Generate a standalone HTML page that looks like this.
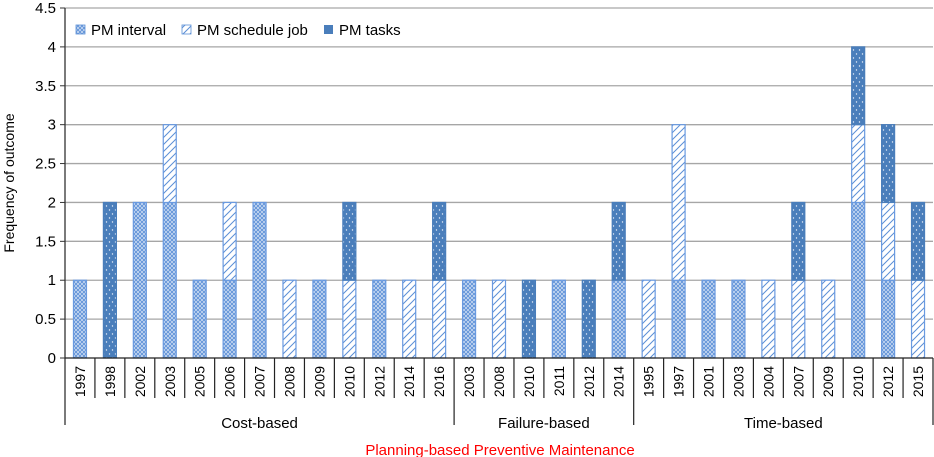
<!DOCTYPE html>
<html><head><meta charset="utf-8"><style>
body{margin:0;background:#fff;}
svg{display:block;font-family:"Liberation Sans",Arial,sans-serif;}
</style></head><body>
<svg id="chart" width="934" height="457" viewBox="0 0 934 457" xmlns="http://www.w3.org/2000/svg">
<defs>
<pattern id="pInt" width="4" height="4" patternUnits="userSpaceOnUse">
<rect width="4" height="4" fill="#c9daf3"/>
<path d="M0,0L4,4M4,0L0,4" stroke="#5b8fd6" stroke-width="0.8"/>
</pattern>
<pattern id="pSch" width="7" height="7" patternUnits="userSpaceOnUse">
<rect width="7" height="7" fill="#fff"/>
<path d="M-1,8L8,-1M-1,1L1,-1M6,8L8,6" stroke="#5b8fd6" stroke-width="1"/>
</pattern>
<pattern id="pTask" width="6" height="8" patternUnits="userSpaceOnUse">
<rect width="6" height="8" fill="#4a7ebb"/>
<circle cx="1.5" cy="2" r="0.7" fill="#e8eef8"/>
<circle cx="4.5" cy="6" r="0.7" fill="#e8eef8"/>
</pattern>
</defs>
<g id="grid"></g>
<g id="bars"></g>
<g id="axes"></g>
<text transform="translate(14,183) rotate(-90)" text-anchor="middle" font-size="14" fill="#000">Frequency of outcome</text>
<text x="500" y="455" text-anchor="middle" font-size="15" fill="#ff0000">Planning-based Preventive Maintenance</text>
<g>
<rect x="76" y="25" width="9" height="9" fill="url(#pInt)" stroke="#5b8fd6" stroke-width="0.8"/>
<text x="91" y="35" font-size="15">PM interval</text>
<rect x="182" y="25" width="9" height="9" fill="url(#pSch)" stroke="#5b8fd6" stroke-width="0.8"/>
<text x="197" y="35" font-size="15">PM schedule job</text>
<rect x="324" y="25" width="9" height="9" fill="#4a7ebb"/>
<text x="339" y="35" font-size="15">PM tasks</text>
</g>
</svg>
<script>
const groups = ["Cost-based","Failure-based","Time-based"];
const groupSizes = [13,6,10];
const categories = ["1997","1998","2002","2003","2005","2006","2007","2008","2009","2010","2012","2014","2016","2003","2008","2010","2011","2012","2014","1995","1997","2001","2003","2004","2007","2009","2010","2012","2015"];
const intervalVals = [1,0,2,2,1,1,2,0,1,0,1,0,0, 1,0,0,1,0,1, 0,1,1,1,0,0,0,2,1,0];
const scheduleVals = [0,0,0,1,0,1,0,1,0,1,0,1,1, 0,1,0,0,0,0, 1,2,0,0,1,1,1,1,1,1];
const tasksVals    = [0,2,0,0,0,0,0,0,0,1,0,0,1, 0,0,1,0,1,1, 0,0,0,0,0,1,0,1,1,1];
const yTicks = ["0","0.5","1","1.5","2","2.5","3","3.5","4","4.5"];

const NS="http://www.w3.org/2000/svg";
const L=65,R=933,Y0=358,YT=8,YMAX=4.5;
const step=(R-L)/categories.length, bw=13;
const y=v=>Y0-(v/YMAX)*(Y0-YT);
const xc=i=>L+step*(i+0.5);
function mk(tag,attrs,parent){const e=document.createElementNS(NS,tag);for(const k in attrs)e.setAttribute(k,attrs[k]);parent.appendChild(e);return e;}
const grid=document.getElementById('grid'),bars=document.getElementById('bars'),axes=document.getElementById('axes');
yTicks.forEach((t,i)=>{
  const v=parseFloat(t),yy=y(v);
  if(v>0){const g=mk('line',{x1:L,x2:R,y1:yy,y2:yy,stroke:'#a6a6a6','stroke-width':1.3},grid);
  
  }
  const tk=mk('line',{x1:L-5,x2:L,y1:yy,y2:yy,stroke:'#333'},axes);
  
  
  const tx=mk('text',{x:L-9,y:yy+5,'text-anchor':'end','font-size':15},axes);
  
  
  tx.textContent=t;
});
const series=[[intervalVals,'url(#pInt)','#6a9ae0'],[scheduleVals,'url(#pSch)','#6a9ae0'],[tasksVals,'url(#pTask)','#4a7ebb']];
const snames=['interval','schedule','tasks'];
categories.forEach((c,i)=>{
  let base=0;
  series.forEach((s,si)=>{
    const v=s[0][i]; if(!v)return;
    const r=mk('rect',{x:xc(i)-bw/2,y:y(base+v),width:bw,height:y(base)-y(base+v),fill:s[1],stroke:s[2],'stroke-width':1.2},bars);
    
    
    base+=v;
  });
  const t=mk('text',{transform:`translate(${xc(i)+5},${366}) rotate(-90)`,'text-anchor':'end','font-size':14},axes);
  
  
  t.textContent=c;
});
// axes lines
const ya=mk('line',{x1:L,x2:L,y1:YT,y2:Y0,stroke:'#333','stroke-width':1.3},axes);


const xa=mk('line',{x1:L,x2:R,y1:Y0,y2:Y0,stroke:'#222','stroke-width':1.3},axes);


let idx=0;
const bounds=[0];groupSizes.forEach(n=>{idx+=n;bounds.push(idx);});
for(let i=0;i<=categories.length;i++){
  const xx=L+step*i, isB=bounds.includes(i);
  const d=mk('line',{x1:xx,x2:xx,y1:Y0,y2:isB?425:398,stroke:'#222','stroke-width':1.2},axes);
  
  
}
groups.forEach((g,gi)=>{
  const mid=L+step*(bounds[gi]+bounds[gi+1])/2;
  const t=mk('text',{x:mid,y:428,'text-anchor':'middle','font-size':15},axes);
  
  
  t.textContent=g;
});
</script>
</body></html>
